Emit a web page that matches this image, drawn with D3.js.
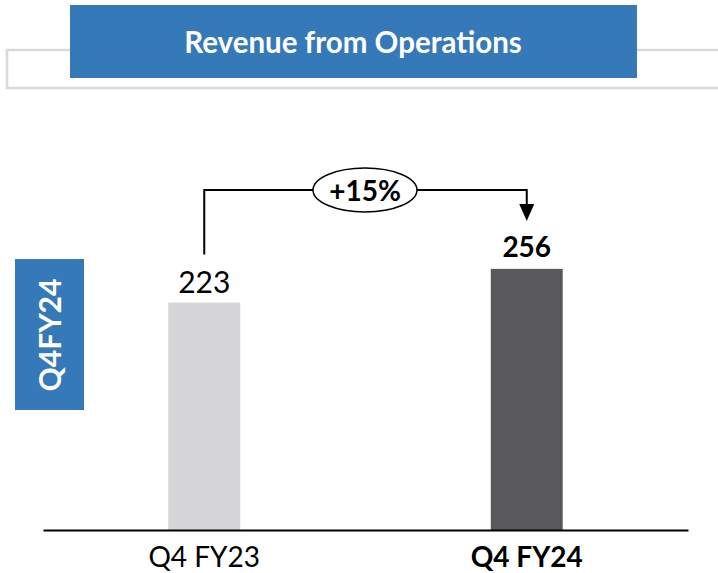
<!DOCTYPE html>
<html>
<head>
<meta charset="utf-8">
<script src="https://cdn.jsdelivr.net/npm/d3@7"></script>
<style>
  html, body { margin: 0; padding: 0; background: #fff; }
  svg { display: block; font-family: Lato, "Open Sans", sans-serif; }
</style>
</head>
<body>
<div id="container"></div>
<script>
const title = "Revenue from Operations";
const sideLabel = "Q4FY24";
const periods = ["Q4 FY23", "Q4 FY24"];
const revenue = [223, 256];
const growthLabel = "+15%";

const width = 718;
const height = 573;

const svg = d3.select("#container")
    .append("svg")
    .attr("width", width)
    .attr("height", height);

// header: grey open frame behind the blue title box
svg.append("path")
    .attr("d", "M720,50 H7 V88 H720")
    .attr("fill", "none")
    .attr("stroke", "#d9d9d9")
    .attr("stroke-width", 2.5);

svg.append("rect")
    .attr("x", 70).attr("y", 5)
    .attr("width", 567).attr("height", 73)
    .attr("fill", "#3579b8");

svg.append("text")
    .attr("x", 353).attr("y", 53)
    .attr("text-anchor", "middle")
    .attr("fill", "#fff")
    .attr("font-weight", "bold")
    .attr("font-size", 29.5)
    .text(title);

// vertical side tag
svg.append("rect")
    .attr("x", 15).attr("y", 259)
    .attr("width", 69).attr("height", 151)
    .attr("fill", "#3579b8");

svg.append("text")
    .attr("transform", "translate(61,335) rotate(-90)")
    .attr("text-anchor", "middle")
    .attr("fill", "#fff")
    .attr("font-weight", "bold")
    .attr("font-size", 30)
    .text(sideLabel);

const xScale = d3.scaleBand()
    .domain(periods)
    .range([43, 688])
    .paddingInner(0.777)
    .paddingOuter(0.3885);

const yScale = d3.scaleLinear()
    .domain([0, 300])
    .range([530, 224]);

const barColors = ["#d6d6d8", "#59595b"];

svg.selectAll(".bar")
    .data(revenue)
    .enter()
    .append("rect")
    .attr("class", "bar")
    .attr("x", (d, i) => xScale(periods[i]))
    .attr("y", d => yScale(d))
    .attr("width", xScale.bandwidth())
    .attr("height", d => yScale(0) - yScale(d))
    .attr("fill", (d, i) => barColors[i]);

// baseline
const xAxis = d3.axisBottom(xScale).tickSize(0).tickPadding(14);
const axisG = svg.append("g")
    .attr("transform", `translate(0,${yScale(0)})`)
    .call(xAxis);
axisG.select(".domain")
    .attr("stroke", "#000")
    .attr("stroke-width", 2);
axisG.selectAll(".tick text")
    .attr("font-family", "Lato, sans-serif")
    .attr("font-size", 28)
    .attr("fill", "#000")
    .attr("dy", 0)
    .attr("y", 37)
    .attr("font-weight", (d, i) => i === 1 ? "bold" : "normal");

// value labels
svg.selectAll(".value")
    .data(revenue)
    .enter()
    .append("text")
    .attr("class", "value")
    .attr("x", (d, i) => xScale(periods[i]) + xScale.bandwidth() / 2)
    .attr("y", (d, i) => yScale(d) - (i === 1 ? 12 : 10))
    .attr("text-anchor", "middle")
    .attr("font-size", (d, i) => i === 1 ? 28 : 30)
    .attr("font-weight", (d, i) => i === 1 ? "bold" : "normal")
    .attr("fill", "#000")
    .text(d => d);

// growth connector
const cx0 = xScale(periods[0]) + xScale.bandwidth() / 2;
const cx1 = xScale(periods[1]) + xScale.bandwidth() / 2;
const topY = 190;
const startY = yScale(revenue[0]) - 48;
const tipY = yScale(revenue[1]) - 48;

svg.append("path")
    .attr("d", `M${cx0},${startY} V${topY} H${cx1} V${tipY - 14}`)
    .attr("fill", "none")
    .attr("stroke", "#000")
    .attr("stroke-width", 2);

svg.append("path")
    .attr("d", `M${cx1 - 7.5},${tipY - 17} L${cx1 + 7.5},${tipY - 17} L${cx1},${tipY} Z`)
    .attr("fill", "#000");

svg.append("ellipse")
    .attr("cx", 365).attr("cy", 190)
    .attr("rx", 52).attr("ry", 22)
    .attr("fill", "#fff")
    .attr("stroke", "#000")
    .attr("stroke-width", 1.5);

svg.append("text")
    .attr("x", 365).attr("y", 201)
    .attr("text-anchor", "middle")
    .attr("font-weight", "bold")
    .attr("font-size", 28)
    .attr("fill", "#000")
    .text(growthLabel);
</script>
</body>
</html>
